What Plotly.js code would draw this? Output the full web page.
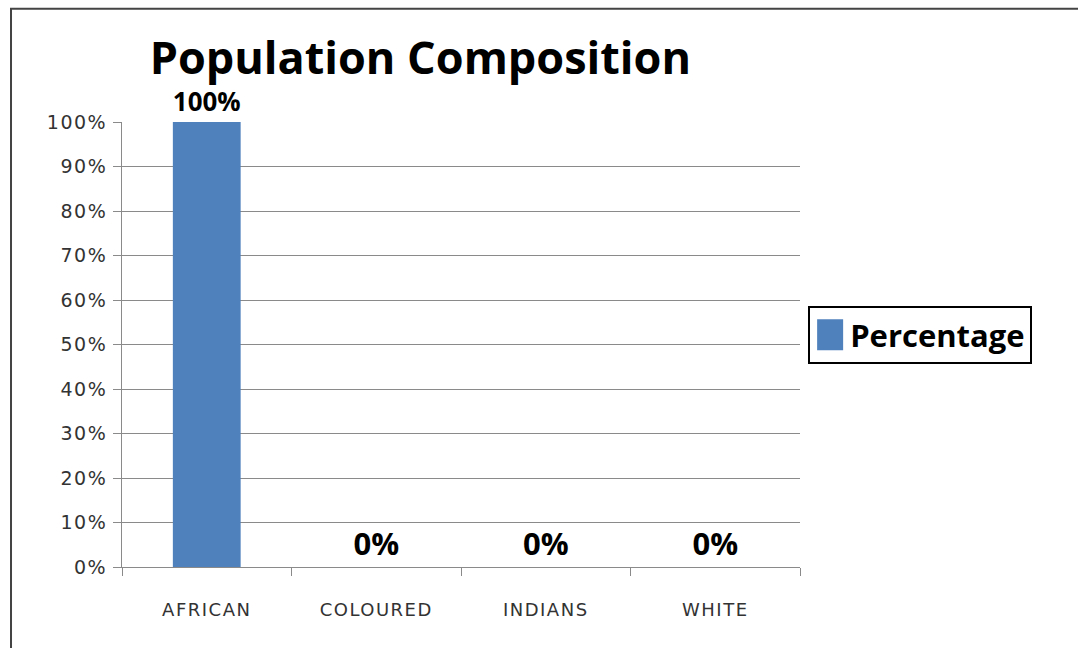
<!DOCTYPE html>
<html>
<head>
<meta charset="utf-8">
<script src="https://cdn.plot.ly/plotly-3.0.1.min.js"></script>
<style>
html,body{margin:0;padding:0;background:#fff;}
#chart{width:1078px;height:648px;}
#chart .xtick text, #chart .ytick text{letter-spacing:1.5px;}
</style>
</head>
<body>
<div id="chart"></div>
<script>
const categories = ["AFRICAN", "COLOURED", "INDIANS", "WHITE"];
const percentage = [1.00, 0.00, 0.00, 0.00];
const seriesName = "Percentage";
const yTickVals = [0, 0.1, 0.2, 0.3, 0.4, 0.5, 0.6, 0.7, 0.8, 0.9, 1.0];
const chartTitle = "Population Composition";

const trace = {
  type: "bar",
  x: categories,
  y: percentage,
  name: seriesName,
  marker: {color: "#4F81BD"},
  texttemplate: "%{y:.0%}",
  textposition: "outside",
  cliponaxis: false,
  textfont: {family: "Open Sans", size: 31, color: "#000", weight: "bold"}
};

const layout = {
  width: 1078, height: 648,
  margin: {l: 122, r: 278, t: 122, b: 81},
  paper_bgcolor: "#fff", plot_bgcolor: "#fff",
  title: {
    text: "<b>" + chartTitle + "</b>",
    font: {family: "Open Sans", size: 45, color: "#000"},
    x: 0.44, xanchor: "center", xref: "paper",
    y: 0.91, yanchor: "middle"
  },
  bargap: 0.6,
  showlegend: true,
  legend: {
    x: 1.012, y: 0.5865, xanchor: "left", yanchor: "top",
    bordercolor: "#000", borderwidth: 2, bgcolor: "#fff",
    font: {family: "Open Sans", size: 31, color: "#000", weight: "bold"}
  },
  xaxis: {
    type: "category",
    tickson: "boundaries",
    ticks: "outside", ticklen: 8, tickcolor: "#8a8a8a", tickwidth: 1,
    showline: true, linecolor: "#8a8a8a", linewidth: 1,
    showgrid: false,
    tickfont: {family: "DejaVu Sans", size: 18, color: "#333"},
    ticklabelstandoff: 26
  },
  yaxis: {
    range: [0, 1],
    tickvals: yTickVals,
    tickformat: ".0%",
    ticks: "outside", ticklen: 8, tickcolor: "#8a8a8a", tickwidth: 1,
    showline: true, linecolor: "#8a8a8a", linewidth: 1,
    showgrid: true, gridcolor: "#8a8a8a", gridwidth: 1,
    zeroline: false,
    tickfont: {family: "DejaVu Sans", size: 19, color: "#333"},
    ticklabelstandoff: 2
  },
  shapes: [{
    type: "rect", xref: "paper", yref: "paper",
    x0: -0.1637, x1: 1.42, y0: -0.2, y1: 1.2545,
    line: {color: "#444", width: 2}, fillcolor: "rgba(0,0,0,0)", layer: "below"
  }]
};

Plotly.newPlot("chart", [trace], layout, {displayModeBar: false, staticPlot: true}).then(function () {
  document.querySelectorAll("#chart .legendpoints path").forEach(function (p) {
    p.setAttribute("d", "M-13,-15.5h26v31h-26Z");
  });
});
</script>
</body>
</html>
